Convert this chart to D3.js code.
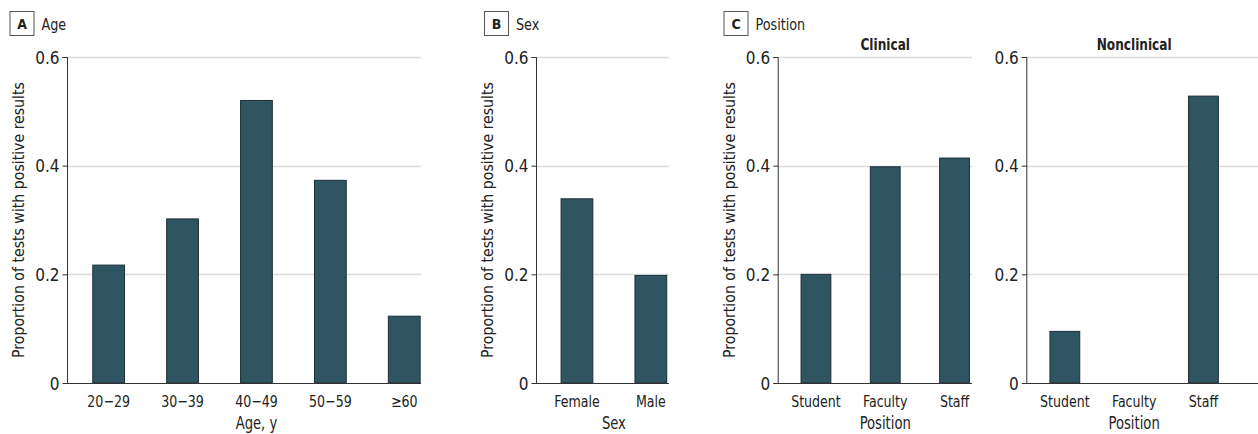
<!DOCTYPE html>
<html>
<head>
<meta charset="utf-8">
<script src="https://cdn.jsdelivr.net/npm/d3@7"></script>
<style>
  html, body { margin: 0; padding: 0; background: #fff; }
  svg text { font-family: "DejaVu Sans Condensed", "Liberation Sans Narrow", "DejaVu Sans", sans-serif; fill: #222; }
</style>
</head>
<body>
<svg id="chart" width="1258" height="434"></svg>
<script>
// Proportion of tests with positive results, by subgroup
const ageCategories = ["20\u221229", "30\u221239", "40\u221249", "50\u221259", "\u226560"];
const ageValues = [0.217, 0.302, 0.520, 0.373, 0.123];

const sexCategories = ["Female", "Male"];
const sexValues = [0.339, 0.198];

const positionCategories = ["Student", "Faculty", "Staff"];
const clinicalValues = [0.200, 0.398, 0.414];
const nonclinicalValues = [0.095, 0, 0.528];

const yTicks = [0, 0.2, 0.4, 0.6];
const yTickLabels = ["0", "0.2", "0.4", "0.6"];

const svg = d3.select("#chart");
const barFill = "#2f5462";
const barStroke = "#1e2f36";
const axisColor = "#333";
const gridColor = "#dcdcdc";
const fontStack = "DejaVu Sans Condensed, Liberation Sans Narrow, sans-serif";
const squeeze = 0.86;

const yTop = 57, yBottom = 383;
const y = d3.scaleLinear().domain([0, 0.6]).range([yBottom, yTop]);

// Narrow the set width of text glyphs for a tighter, condensed look
function condense(sel, factor) {
  sel.each(function () {
    const w = this.getComputedTextLength();
    d3.select(this).attr("textLength", w * factor).attr("lengthAdjust", "spacingAndGlyphs");
  });
}

// Panel header: boxed letter followed by a label
function header(x, letter, label) {
  const g = svg.append("g");
  g.append("rect").attr("x", x + 0.5).attr("y", 11.5).attr("width", 24).attr("height", 24)
    .attr("fill", "#fff").attr("stroke", "#555").attr("stroke-width", 1);
  g.append("text").attr("x", x + 12.5).attr("y", 29).attr("text-anchor", "middle")
    .attr("font-size", 14).attr("font-weight", "bold").text(letter);
  g.append("text").attr("x", x + 32).attr("y", 29.5).attr("font-size", 16.5).text(label)
    .call(condense, squeeze);
}

// One bar chart: axis position, grid extent and band layout
function panel(opts) {
  const { axisX, gridRight, bandStart, step, categories, values, xTitle, subtitle, yTitle } = opts;
  const n = categories.length;
  const x = d3.scaleBand().domain(categories)
    .range([bandStart, bandStart + step * n]).paddingInner(0.57).paddingOuter(0.285);
  const g = svg.append("g");

  // gridlines
  g.selectAll("line.grid").data(yTicks.filter(t => t > 0)).join("line")
    .attr("class", "grid")
    .attr("x1", axisX).attr("x2", gridRight)
    .attr("y1", d => Math.round(y(d)) + 0.5).attr("y2", d => Math.round(y(d)) + 0.5)
    .attr("stroke", gridColor).attr("stroke-width", 1.5);

  // bars
  g.selectAll("rect.bar").data(values.map((v, i) => ({ c: categories[i], v })).filter(d => d.v > 0)).join("rect")
    .attr("class", "bar")
    .attr("x", d => x(d.c)).attr("width", x.bandwidth())
    .attr("y", d => y(d.v)).attr("height", d => y(0) - y(d.v))
    .attr("fill", barFill).attr("stroke", barStroke).attr("stroke-width", 1);

  // y axis
  const yAxis = d3.axisLeft(y).tickValues(yTicks).tickFormat((d, i) => yTickLabels[i])
    .tickSize(5).tickPadding(3);
  const ya = g.append("g").attr("transform", `translate(${axisX + 0.5},0)`).call(yAxis);
  ya.attr("font-family", null).attr("font-size", null);
  ya.select(".domain").attr("stroke", axisColor).attr("d", `M-5,${yTop + 0.5}H0V${yBottom + 0.5}`);
  ya.selectAll(".tick line").attr("stroke", axisColor);
  ya.selectAll(".tick text").attr("fill", "#222").attr("dy", "0.36em")
    .style("font-family", fontStack).style("font-size", "17px");

  // x axis baseline with category labels
  const xAxis = d3.axisBottom(x).tickSize(0).tickPadding(0);
  const xa = g.append("g").attr("transform", `translate(0,${yBottom + 0.5})`).call(xAxis);
  xa.attr("font-family", null).attr("font-size", null);
  xa.select(".domain").attr("stroke", axisColor).attr("d", `M${axisX},0H${gridRight}`);
  xa.selectAll(".tick text").attr("fill", "#222").attr("y", 23).attr("dy", null)
    .style("font-family", fontStack).style("font-size", "16.3px")
    .call(condense, squeeze);

  const cx = (x(categories[0]) + x(categories[n - 1]) + x.bandwidth()) / 2;
  g.append("text").attr("x", cx).attr("y", 429).attr("text-anchor", "middle")
    .attr("font-size", 17).text(xTitle).call(condense, squeeze);

  if (subtitle) {
    g.append("text").attr("x", cx).attr("y", 50).attr("text-anchor", "middle")
      .attr("font-size", 15.7).attr("font-weight", "bold").text(subtitle)
      .call(condense, squeeze);
  }
  if (yTitle) {
    g.append("text")
      .attr("transform", `translate(${axisX - 43},${(yTop + yBottom) / 2}) rotate(-90)`)
      .attr("text-anchor", "middle").attr("font-size", 15.7).text(yTitle);
  }
}

const yTitleText = "Proportion of tests with positive results";

header(9.5, "A", "Age");
panel({ axisX: 67, gridRight: 421, bandStart: 71.7, step: 73.9,
  categories: ageCategories, values: ageValues, xTitle: "Age, y", yTitle: yTitleText });

header(484, "B", "Sex");
panel({ axisX: 536, gridRight: 669, bandStart: 540, step: 73.9,
  categories: sexCategories, values: sexValues, xTitle: "Sex", yTitle: yTitleText });

header(723.5, "C", "Position");
panel({ axisX: 777.7, gridRight: 972, bandStart: 781.3, step: 69.3,
  categories: positionCategories, values: clinicalValues, xTitle: "Position",
  subtitle: "Clinical", yTitle: yTitleText });
panel({ axisX: 1026.3, gridRight: 1258, bandStart: 1030.2, step: 69.3,
  categories: positionCategories, values: nonclinicalValues, xTitle: "Position",
  subtitle: "Nonclinical" });
</script>
</body>
</html>
